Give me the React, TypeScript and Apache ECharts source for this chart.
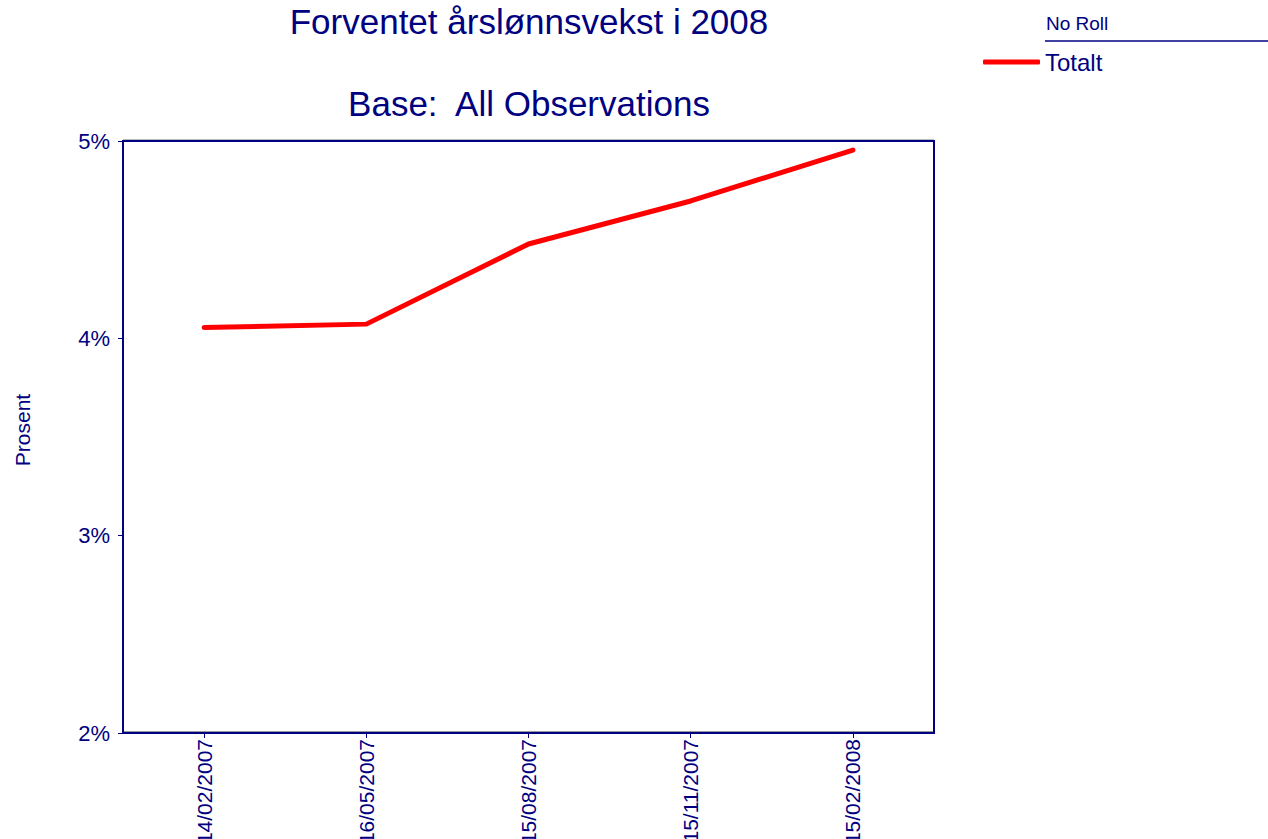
import React, { useEffect, useRef } from "react";
import * as echarts from "echarts";

const categories = ["14/02/2007", "16/05/2007", "15/08/2007", "15/11/2007", "15/02/2008"];
const totalt = [4.055, 4.072, 4.478, 4.696, 4.954];
const titleText = "Forventet årslønnsvekst i 2008";
const subtitleText = "Base:  All Observations";
const yName = "Prosent";
const legendTitle = "No Roll";
const seriesName = "Totalt";

const NAVY = "#000080";
const FONT = "'Liberation Sans', Arial, sans-serif";

export default function App() {
  const ref = useRef<HTMLDivElement>(null);
  useEffect(() => {
    if (!ref.current) return;
    const chart = echarts.init(ref.current, null, { renderer: "svg" });
    chart.setOption({
      animation: false,
      backgroundColor: "#ffffff",
      textStyle: { fontFamily: FONT },
      title: [
        {
          text: titleText,
          left: 529,
          top: 4,
          textAlign: "center",
          padding: 0,
          textStyle: { color: NAVY, fontSize: 35, fontWeight: "normal", fontFamily: FONT },
        },
        {
          text: subtitleText,
          left: 529,
          top: 86,
          textAlign: "center",
          padding: 0,
          textStyle: { color: NAVY, fontSize: 35, fontWeight: "normal", fontFamily: FONT },
        },
      ],
      legend: {
        left: 983,
        top: 50,
        padding: 0,
        icon: "roundRect",
        itemWidth: 57,
        itemHeight: 5,
        itemGap: 4,
        data: [{ name: seriesName }],
        itemStyle: { color: "#ff0000" },
        textStyle: { color: NAVY, fontSize: 24, fontFamily: FONT, padding: [0, 0, 10, 0] },
      },
      grid: {
        left: 123,
        right: 334,
        top: 141,
        height: 592,
        outerBoundsMode: "none",
        containLabel: false,
        show: true,
        borderColor: NAVY,
        borderWidth: 2,
        backgroundColor: "#ffffff",
      },
      xAxis: {
        type: "category",
        data: categories,
        boundaryGap: true,
        axisLine: { show: true, lineStyle: { color: NAVY, width: 2 } },
        axisTick: { show: true, alignWithLabel: true, length: 5, lineStyle: { color: NAVY, width: 1 } },
        axisLabel: {
          rotate: 90,
          color: NAVY,
          fontSize: 21,
          fontFamily: FONT,
          margin: 6,
          interval: 0,
        },
        splitLine: { show: false },
      },
      yAxis: {
        type: "value",
        min: 2,
        max: 5,
        interval: 1,
        name: yName,
        nameLocation: "middle",
        nameGap: 90,
        nameRotate: 90,
        nameTextStyle: { color: NAVY, fontSize: 21, fontFamily: FONT, padding: [0, 0, 0, 14] },
        axisLine: { show: true, lineStyle: { color: NAVY, width: 2 } },
        axisTick: { show: true, length: 5, lineStyle: { color: NAVY, width: 1 } },
        axisLabel: {
          formatter: "{value}%",
          color: NAVY,
          fontSize: 22,
          fontFamily: FONT,
          margin: 13,
        },
        splitLine: { show: false },
      },
      series: [
        {
          name: seriesName,
          type: "line",
          data: totalt,
          symbol: "none",
          lineStyle: { color: "#ff0000", width: 5, cap: "round", join: "round" },
          itemStyle: { color: "#ff0000" },
        },
      ],
      graphic: [
        {
          type: "text",
          left: 1046,
          top: 14,
          style: { text: legendTitle, fill: NAVY, fontSize: 19, fontFamily: FONT },
        },
        {
          type: "line",
          shape: { x1: 1045, y1: 41, x2: 1268, y2: 41 },
          style: { stroke: NAVY, lineWidth: 1.5 },
        },
        {
          type: "line",
          shape: { x1: 123, y1: 139.5, x2: 934, y2: 139.5 },
          style: { stroke: "#bbbbbb", lineWidth: 1 },
        },
        {
          type: "line",
          shape: { x1: 124, y1: 731.5, x2: 933, y2: 731.5 },
          style: { stroke: "#999999", lineWidth: 1 },
        },
      ],
    });
    return () => chart.dispose();
  }, []);
  return (
    <div
      ref={ref}
      style={{ position: "fixed", left: 0, top: 0, width: 1268, height: 839, background: "#fff" }}
    />
  );
}
